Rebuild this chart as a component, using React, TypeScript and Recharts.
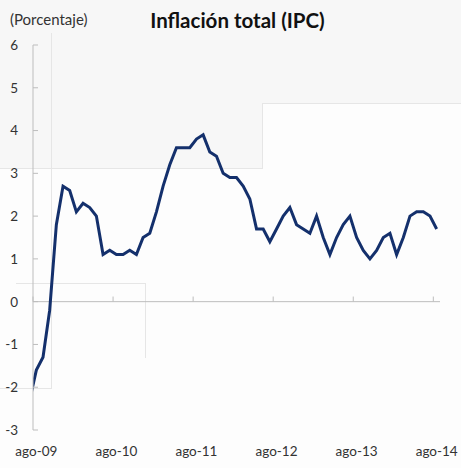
import { LineChart, Line, XAxis, YAxis, ReferenceLine } from 'recharts';

// monthly CPI inflation, jul-09 .. ago-14 (jul-09 sits left of the plot and is clipped)
const months = [
  'jul-09', 'ago-09', 'sep-09', 'oct-09', 'nov-09', 'dic-09',
  'ene-10', 'feb-10', 'mar-10', 'abr-10', 'may-10', 'jun-10', 'jul-10', 'ago-10', 'sep-10', 'oct-10', 'nov-10', 'dic-10',
  'ene-11', 'feb-11', 'mar-11', 'abr-11', 'may-11', 'jun-11', 'jul-11', 'ago-11', 'sep-11', 'oct-11', 'nov-11', 'dic-11',
  'ene-12', 'feb-12', 'mar-12', 'abr-12', 'may-12', 'jun-12', 'jul-12', 'ago-12', 'sep-12', 'oct-12', 'nov-12', 'dic-12',
  'ene-13', 'feb-13', 'mar-13', 'abr-13', 'may-13', 'jun-13', 'jul-13', 'ago-13', 'sep-13', 'oct-13', 'nov-13', 'dic-13',
  'ene-14', 'feb-14', 'mar-14', 'abr-14', 'may-14', 'jun-14', 'jul-14', 'ago-14',
];

const inflation = [
  -2.3, -1.6, -1.3, -0.2, 1.8, 2.7,
  2.6, 2.1, 2.3, 2.2, 2.0, 1.1, 1.2, 1.1, 1.1, 1.2, 1.1, 1.5,
  1.6, 2.1, 2.7, 3.2, 3.6, 3.6, 3.6, 3.8, 3.9, 3.5, 3.4, 3.0,
  2.9, 2.9, 2.7, 2.4, 1.7, 1.7, 1.4, 1.7, 2.0, 2.2, 1.8, 1.7,
  1.6, 2.0, 1.5, 1.1, 1.5, 1.8, 2.0, 1.5, 1.2, 1.0, 1.2, 1.5,
  1.6, 1.1, 1.5, 2.0, 2.1, 2.1, 2.0, 1.7,
];

const yTicks = [-3, -2, -1, 0, 1, 2, 3, 4, 5, 6];

const data = months.map((month, i) => ({ i, month, value: inflation[i] }));
// labels sit on the august points, the small marks on the zero line fall between months
const labelTicks = data.filter((d) => d.month.startsWith('ago')).map((d) => d.i);
const yearMarks = labelTicks.map((t) => t - 0.5);

const NAVY = '#14306c';
const AXIS = '#bdbdbd';
const TEXT = '#333333';
const FONT = 'Lato, "Open Sans", sans-serif';
const FAINT = '#e6e6e6';

function YTick(props: any) {
  const { x, y, payload } = props;
  return (
    <g>
      <line x1={x + 15} y1={y} x2={x + 20} y2={y} stroke={AXIS} />
      <text x={x} y={y} dy="0.36em" textAnchor="end" fill={TEXT} fontSize={13.5} fontFamily={FONT}>
        {payload.value}
      </text>
    </g>
  );
}

const line = (left: number, top: number, width: number, height: number) => (
  <div style={{ position: 'absolute', left, top, width, height, background: FAINT }} />
);

export default function App() {
  return (
    <div style={{ position: 'relative', width: 461, height: 468, background: '#f7f7f7', overflow: 'hidden' }}>
      <style>{'body { margin: 0; }'}</style>

      {/* slide background behind the chart */}
      <div style={{ position: 'absolute', left: 0, top: 168, width: 262, height: 300, background: '#fdfdfd' }} />
      <div style={{ position: 'absolute', left: 262, top: 103, width: 199, height: 365, background: '#fdfdfd' }} />
      {line(0, 168, 262, 1)}
      {line(262, 103, 1, 66)}
      {line(262, 103, 199, 1)}
      {line(51, 33, 1, 355)}
      {line(0, 388, 52, 1)}
      {line(16, 283, 129, 1)}
      {line(145, 283, 1, 75)}

      <div style={{ position: 'absolute', left: 0, top: 0 }}>
        <LineChart width={461} height={468} data={data} margin={{ top: 45, right: 21, bottom: 8, left: 0 }}>
          <XAxis
            dataKey="i"
            type="number"
            domain={[0.5, 61.5]}
            allowDataOverflow
            ticks={labelTicks}
            interval={0}
            tickFormatter={(v) => months[v]}
            axisLine={false}
            tickLine={false}
            tickSize={0}
            tickMargin={16}
            height={30}
            tick={{ fill: TEXT, fontSize: 13.5, fontFamily: FONT }}
          />
          <YAxis
            type="number"
            domain={[-3, 6]}
            ticks={yTicks}
            interval={0}
            width={33}
            axisLine={{ stroke: AXIS }}
            tickLine={false}
            tickSize={0}
            tickMargin={15}
            tick={<YTick />}
          />
          <ReferenceLine y={0} stroke={AXIS} />
          {yearMarks.map((t) => (
            <ReferenceLine
              key={t}
              segment={[{ x: t, y: 0 }, { x: t, y: 0.12 }]}
              stroke={AXIS}
            />
          ))}
          <Line
            type="linear"
            dataKey="value"
            stroke={NAVY}
            strokeWidth={3}
            dot={false}
            isAnimationActive={false}
          />
        </LineChart>
      </div>

      <svg width={461} height={468} style={{ position: 'absolute', left: 0, top: 0, pointerEvents: 'none' }}>
        <text x={10} y={25} fontSize={15} fill={TEXT} fontFamily={FONT}>
          (Porcentaje)
        </text>
        <text x={237.5} y={28} fontSize={20.5} fontWeight="bold" fill="#111" textAnchor="middle" fontFamily={FONT}>
          Inflación total (IPC)
        </text>
      </svg>
    </div>
  );
}
